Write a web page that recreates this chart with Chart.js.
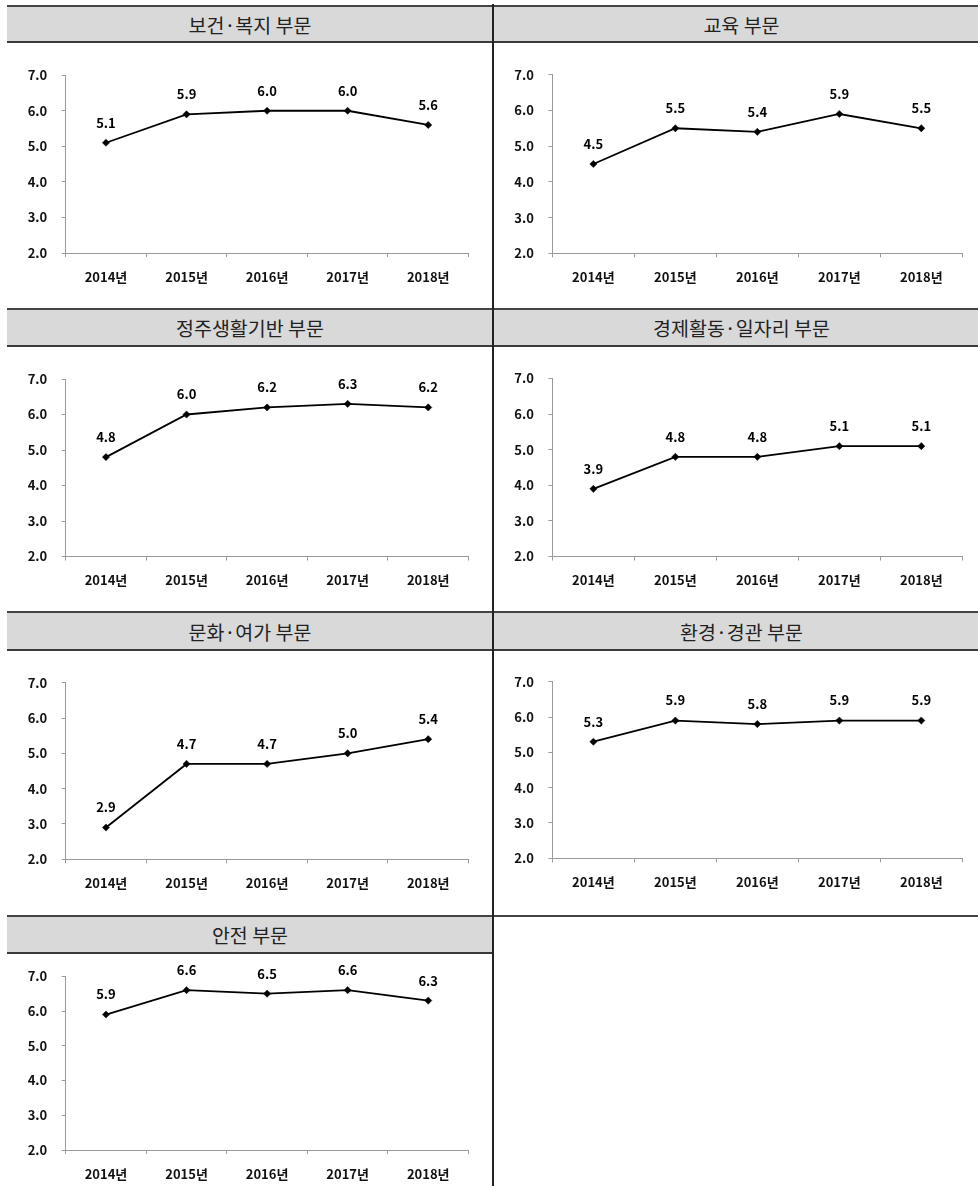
<!DOCTYPE html>
<html>
<head>
<meta charset="utf-8">
<script src="https://cdn.jsdelivr.net/npm/chart.js@4/dist/chart.umd.min.js"></script>
<style>
  html, body { margin: 0; padding: 0; background: #fff; }
  #stage { position: relative; width: 978px; height: 1186px; overflow: hidden; background: #fff; }
  .hdr { position: absolute; background: #d9d9d9; box-sizing: border-box;
         border-top: 2px solid #444; border-bottom: 2px solid #3a3a3a;
         font-family: 'Noto Sans CJK KR', sans-serif; font-size: 19.5px; color: #222;
         display: flex; align-items: center; justify-content: center; }
  .line { position: absolute; background: #222; }
  .box { position: absolute; }
  .box canvas { display: block; }
</style>
</head>
<body>
<div id="stage"></div>
<script>
// ---------- data ----------
const years = ['2014년', '2015년', '2016년', '2017년', '2018년'];
const titles = ['보건·복지 부문', '교육 부문', '정주생활기반 부문', '경제활동·일자리 부문', '문화·여가 부문', '환경·경관 부문', '안전 부문'];
const health      = [5.1, 5.9, 6.0, 6.0, 5.6];
const education   = [4.5, 5.5, 5.4, 5.9, 5.5];
const settlement  = [4.8, 6.0, 6.2, 6.3, 6.2];
const economy     = [3.9, 4.8, 4.8, 5.1, 5.1];
const culture     = [2.9, 4.7, 4.7, 5.0, 5.4];
const environment = [5.3, 5.9, 5.8, 5.9, 5.9];
const safety      = [5.9, 6.6, 6.5, 6.6, 6.3];
const yMin = 2, yMax = 7, yStep = 1;

// ---------- layout ----------
const stage = document.getElementById('stage');
const cols = [
  { x: 7,   w: 486, areaL: 65.7,  areaR: 468.5 },
  { x: 494, w: 484, areaL: 552.4, areaR: 962.3 }
];
const rows = [
  { hTop: 5,   hBot: 43,  end: 308,  areas: [[75.2, 253], [74.7, 253.3]] },
  { hTop: 308, hBot: 347, end: 611,  areas: [[379, 556.5], [378.5, 556.5]] },
  { hTop: 611, hBot: 651, end: 915,  areas: [[682.7, 859.3], [681.7, 858.3]] },
  { hTop: 915, hBot: 954, end: 1186, areas: [[972.5, 1150]] }
];
const panels = [
  { title: titles[0], values: health,      row: 0, col: 0 },
  { title: titles[1], values: education,   row: 0, col: 1 },
  { title: titles[2], values: settlement,  row: 1, col: 0 },
  { title: titles[3], values: economy,     row: 1, col: 1 },
  { title: titles[4], values: culture,     row: 2, col: 0 },
  { title: titles[5], values: environment, row: 2, col: 1 },
  { title: titles[6], values: safety,      row: 3, col: 0 }
];

Chart.defaults.font.family = "'Noto Sans CJK KR', 'Noto Sans', sans-serif";
Chart.defaults.color = '#000';

const valueLabels = {
  id: 'valueLabels',
  afterDatasetsDraw(chart) {
    const ctx = chart.ctx;
    const meta = chart.getDatasetMeta(0);
    const data = chart.data.datasets[0].data;
    ctx.save();
    ctx.font = "bold 13px 'Noto Sans CJK KR', sans-serif";
    ctx.fillStyle = '#000';
    ctx.textAlign = 'center';
    ctx.textBaseline = 'middle';
    meta.data.forEach((pt, i) => {
      ctx.fillText(Number(data[i]).toFixed(1), pt.x, pt.y - 20);
    });
    ctx.restore();
  }
};

function addDiv(cls, l, t, w, h, text) {
  const d = document.createElement('div');
  d.className = cls;
  d.style.left = l + 'px'; d.style.top = t + 'px';
  d.style.width = w + 'px'; d.style.height = h + 'px';
  if (text) d.textContent = text;
  stage.appendChild(d);
  return d;
}

panels.forEach(p => {
  const c = cols[p.col], r = rows[p.row];
  const area = r.areas[p.col];
  // header
  const hx = p.col === 0 ? 7 : 493;
  const hw = p.col === 0 ? 486 : 493;
  const hd = addDiv('hdr', hx, r.hTop, hw, r.hBot - r.hTop, p.title);
  if (p.col === 1) hd.style.paddingLeft = '4px';

  // chart box
  const top = r.hBot;
  const height = r.end - top;
  const box = addDiv('box', c.x, top, c.w, height);
  const cv = document.createElement('canvas');
  cv.width = c.w; cv.height = height;
  cv.style.width = c.w + 'px'; cv.style.height = height + 'px';
  box.appendChild(cv);

  const yW = c.areaL - c.x;
  const xH = top + height - area[1];

  new Chart(cv, {
    type: 'line',
    data: {
      labels: years,
      datasets: [{
        data: p.values,
        borderColor: '#000',
        backgroundColor: '#000',
        borderWidth: 1.8,
        pointStyle: 'rectRot',
        pointRadius: 3.6,
        pointBackgroundColor: '#000',
        pointBorderColor: '#000',
        pointBorderWidth: 0.5,
        tension: 0,
        clip: false
      }]
    },
    options: {
      responsive: false,
      animation: false,
      events: [],
      layout: { padding: { top: area[0] - top, right: c.x + c.w - c.areaR, left: 0, bottom: 0 } },
      plugins: { legend: { display: false }, tooltip: { enabled: false }, title: { display: false } },
      scales: {
        x: {
          type: 'category',
          offset: true,
          grid: { display: true, offset: true, drawOnChartArea: false, drawTicks: true, tickLength: 4, color: '#9a9a9a', lineWidth: 1 },
          border: { display: true, color: '#9a9a9a', width: 1 },
          ticks: { padding: 12, maxRotation: 0, autoSkip: false, color: '#111',
                   font: { size: 13, weight: 'bold' } },
          afterFit(scale) { scale.height = xH; }
        },
        y: {
          min: yMin, max: yMax,
          grid: { display: true, drawOnChartArea: false, drawTicks: true, tickLength: 4, color: '#9a9a9a', lineWidth: 1 },
          border: { display: true, color: '#9a9a9a', width: 1 },
          ticks: { stepSize: yStep, padding: 14.5, color: '#111',
                   font: { size: 13, weight: 'bold' },
                   callback: v => Number(v).toFixed(1) },
          afterFit(scale) { scale.width = yW; }
        }
      }
    },
    plugins: [valueLabels]
  });
});

// right column, last row: separator line only
addDiv('line', 493, 915, 485, 2).style.background = '#444';
// vertical divider
addDiv('line', 492, 4, 2, 1182);
</script>
</body>
</html>
